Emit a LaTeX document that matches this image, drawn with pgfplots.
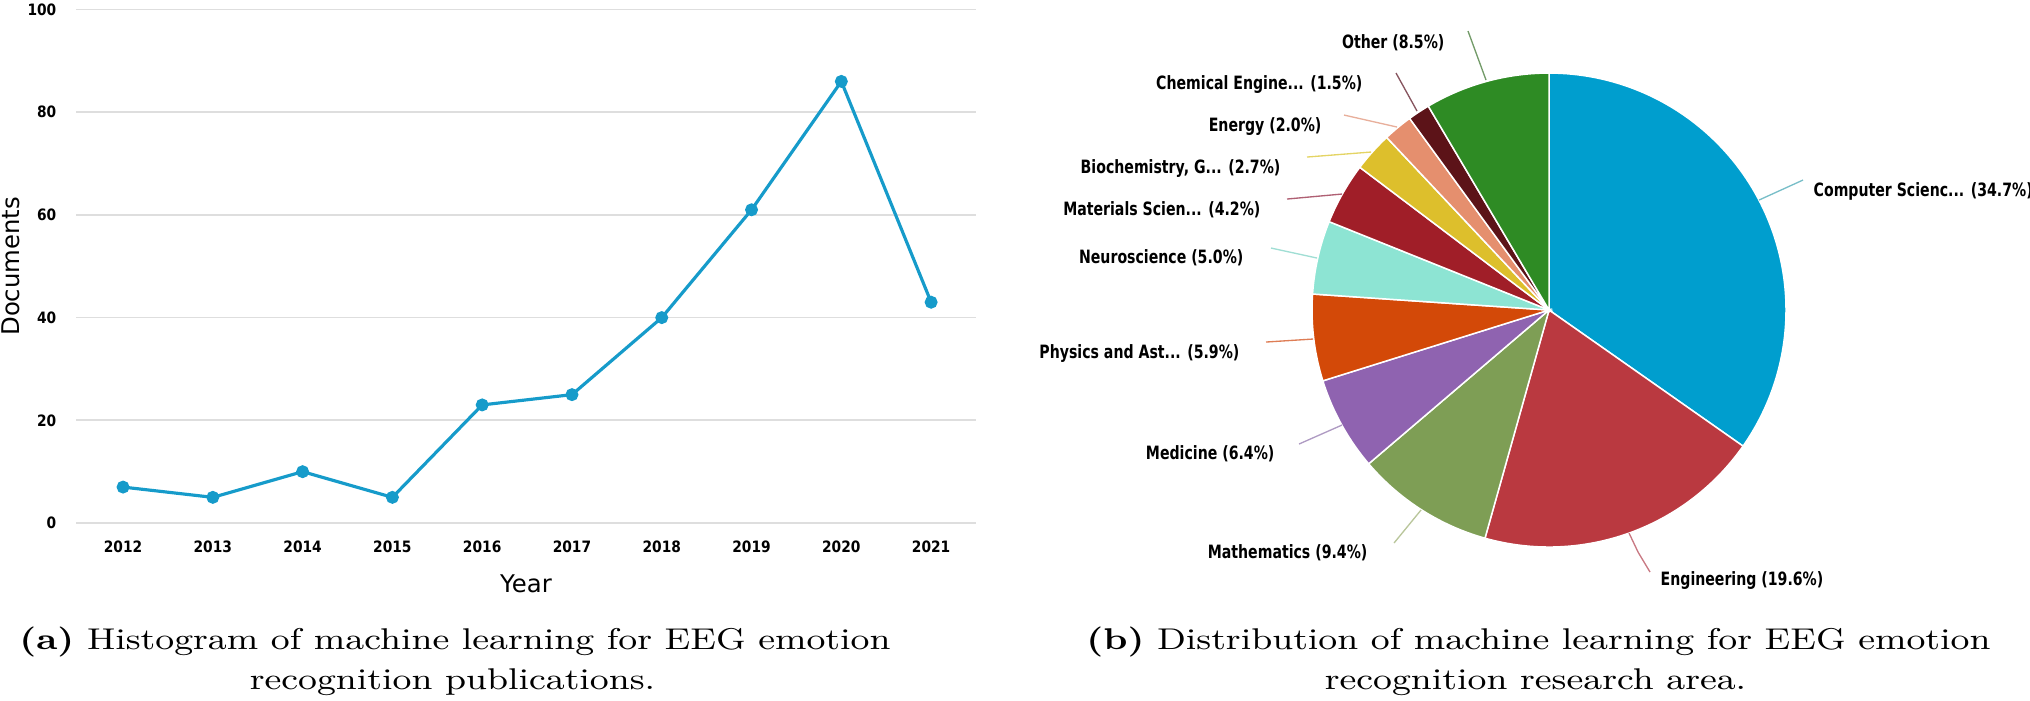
\documentclass[border=0pt]{standalone}
\usepackage{pgfplots}
\pgfplotsset{compat=1.18}
\usepackage{fontspec}
\newfontfamily\dv{DejaVu Sans}
\definecolor{linec}{RGB}{22,155,202}
\definecolor{gridc}{RGB}{222,222,222}
\definecolor{cCS}{RGB}{0,158,206}
\definecolor{cEng}{RGB}{186,57,64}
\definecolor{cMath}{RGB}{126,158,85}
\definecolor{cMed}{RGB}{143,99,176}
\definecolor{cPhy}{RGB}{211,73,8}
\definecolor{cNeu}{RGB}{141,228,211}
\definecolor{cMat}{RGB}{160,30,40}
\definecolor{cBio}{RGB}{221,191,44}
\definecolor{cEne}{RGB}{229,143,110}
\definecolor{cChe}{RGB}{92,19,24}
\definecolor{cOth}{RGB}{46,139,36}
\definecolor{lCS}{RGB}{120,190,200}
\definecolor{lEng}{RGB}{200,120,130}
\definecolor{lMath}{RGB}{185,198,155}
\definecolor{lMed}{RGB}{175,155,195}
\definecolor{lPhy}{RGB}{222,125,85}
\definecolor{lNeu}{RGB}{160,222,212}
\definecolor{lMat}{RGB}{175,95,115}
\definecolor{lBio}{RGB}{228,212,100}
\definecolor{lEne}{RGB}{232,175,155}
\definecolor{lChe}{RGB}{135,85,95}
\definecolor{lOth}{RGB}{115,155,105}
% shares of the research areas (percent), clockwise from the top
\def\pCS{34.7}\def\pEng{19.6}\def\pMath{9.4}\def\pMed{6.4}\def\pPhy{5.9}
\def\pNeu{5.0}\def\pMat{4.2}\def\pBio{2.7}\def\pEne{2.0}\def\pChe{1.5}\def\pOth{8.5}
\pgfmathsetmacro\fac{360/99.9}
\pgfmathsetmacro\aA{90}
\pgfmathsetmacro\aB{\aA-\fac*\pCS}
\pgfmathsetmacro\aC{\aB-\fac*\pEng}
\pgfmathsetmacro\aD{\aC-\fac*\pMath}
\pgfmathsetmacro\aE{\aD-\fac*\pMed}
\pgfmathsetmacro\aF{\aE-\fac*\pPhy}
\pgfmathsetmacro\aG{\aF-\fac*\pNeu}
\pgfmathsetmacro\aH{\aG-\fac*\pMat}
\pgfmathsetmacro\aI{\aH-\fac*\pBio}
\pgfmathsetmacro\aJ{\aI-\fac*\pEne}
\pgfmathsetmacro\aK{\aJ-\fac*\pChe}
\pgfmathsetmacro\aL{-270}
\newcommand\pl{\dv\bfseries\fontsize{5.5}{6}\selectfont}
\newcommand\plab[1]{\scalebox{0.77}[1]{#1}}
\newcommand\capt[1]{\scalebox{1.225}[1]{\fontsize{9}{12}\selectfont #1}}
\begin{document}
\begin{tikzpicture}[x=1pt,y=1pt]
\path[use as bounding box] (0,0) rectangle (609,210);
% ---------------- line chart ----------------
\begin{axis}[
  at={(22.8pt,53.1pt)}, anchor=south west,
  scale only axis, width=270pt, height=154.05pt,
  xmin=2011.476, xmax=2021.5, ymin=0, ymax=100,
  xtick={2012,2013,...,2021}, ytick={0,20,...,100},
  ymajorgrids, grid style={line width=0.5pt, color=gridc},
  axis line style={draw=none}, major tick length=0pt,
  /pgf/number format/assume math mode=true,
  /pgf/number format/1000 sep={},
  xticklabel={\scalebox{0.88}[1]{\pgfmathprintnumber{\tick}}},
  yticklabel={\scalebox{0.88}[1]{\pgfmathprintnumber{\tick}}},
  xticklabel style={font=\dv\bfseries\fontsize{4.7}{5}\selectfont, anchor=north, inner sep=0pt, yshift=-5.1pt},
  yticklabel style={font=\dv\bfseries\fontsize{4.7}{5}\selectfont, anchor=east, inner sep=0pt, xshift=-5.7pt},
  xlabel={Year}, ylabel={Documents},
  xlabel style={font=\dv\fontsize{7.3}{8}\selectfont, at={(axis description cs:0.5,-0.1344)}, anchor=base, inner sep=0pt},
  ylabel style={font=\dv\fontsize{7.3}{8}\selectfont, at={(axis description cs:-0.0633,0.5)}, anchor=base, inner sep=0pt},
]
\addplot[color=linec, line width=0.95pt, mark=*, mark size=1.45pt, mark options={fill=linec, draw=linec}]
  coordinates {(2012,7) (2013,5) (2014,10) (2015,5) (2016,23) (2017,25) (2018,40) (2019,61) (2020,86) (2021,43)};
\end{axis}
% ---------------- pie chart (axis in picture pixels) ----------------
\begin{axis}[
  at={(0pt,0pt)}, anchor=south west,
  scale only axis, width=609pt, height=210pt,
  xmin=0, xmax=2030, ymin=0, ymax=700, y dir=reverse,
  hide axis, clip=false,
]
\pgfplotsset{pie/.style={draw=white, line width=0.45pt, samples=90, variable=\t}}
\addplot[pie, fill=cCS,  domain=\aB:\aA] ({1549+237*cos(\t)},{310-237*sin(\t)}) -- (axis cs:1549,310) -- cycle;
\addplot[pie, fill=cEng, domain=\aC:\aB] ({1549+237*cos(\t)},{310-237*sin(\t)}) -- (axis cs:1549,310) -- cycle;
\addplot[pie, fill=cMath,domain=\aD:\aC] ({1549+237*cos(\t)},{310-237*sin(\t)}) -- (axis cs:1549,310) -- cycle;
\addplot[pie, fill=cMed, domain=\aE:\aD] ({1549+237*cos(\t)},{310-237*sin(\t)}) -- (axis cs:1549,310) -- cycle;
\addplot[pie, fill=cPhy, domain=\aF:\aE] ({1549+237*cos(\t)},{310-237*sin(\t)}) -- (axis cs:1549,310) -- cycle;
\addplot[pie, fill=cNeu, domain=\aG:\aF] ({1549+237*cos(\t)},{310-237*sin(\t)}) -- (axis cs:1549,310) -- cycle;
\addplot[pie, fill=cMat, domain=\aH:\aG] ({1549+237*cos(\t)},{310-237*sin(\t)}) -- (axis cs:1549,310) -- cycle;
\addplot[pie, fill=cBio, domain=\aI:\aH, samples=20] ({1549+237*cos(\t)},{310-237*sin(\t)}) -- (axis cs:1549,310) -- cycle;
\addplot[pie, fill=cEne, domain=\aJ:\aI, samples=20] ({1549+237*cos(\t)},{310-237*sin(\t)}) -- (axis cs:1549,310) -- cycle;
\addplot[pie, fill=cChe, domain=\aK:\aJ, samples=20] ({1549+237*cos(\t)},{310-237*sin(\t)}) -- (axis cs:1549,310) -- cycle;
\addplot[pie, fill=cOth, domain=\aL:\aK] ({1549+237*cos(\t)},{310-237*sin(\t)}) -- (axis cs:1549,310) -- cycle;
% leader lines
\addplot[draw=lCS,  line width=0.4pt] coordinates {(1759,200) (1803,180)};
\addplot[draw=lEng, line width=0.4pt] coordinates {(1629,533) (1638,552) (1650,572)};
\addplot[draw=lMath,line width=0.4pt] coordinates {(1421,510) (1394,543)};
\addplot[draw=lMed, line width=0.4pt] coordinates {(1342,425) (1299,444)};
\addplot[draw=lPhy, line width=0.4pt] coordinates {(1313,339) (1266,342)};
\addplot[draw=lNeu, line width=0.4pt] coordinates {(1317,258) (1271,248)};
\addplot[draw=lMat, line width=0.4pt] coordinates {(1342,194) (1287,199)};
\addplot[draw=lBio, line width=0.4pt] coordinates {(1371,152) (1307,157)};
\addplot[draw=lEne, line width=0.4pt] coordinates {(1397,127) (1344,115)};
\addplot[draw=lChe, line width=0.4pt] coordinates {(1417,111) (1396,73)};
\addplot[draw=lOth, line width=0.4pt] coordinates {(1486,80) (1468,31)};
% labels
\node[font=\pl, anchor=mid west, inner sep=0pt] at (axis cs:1813,189) {\plab{Computer Scienc... (34.7\%)}};
\node[font=\pl, anchor=mid west, inner sep=0pt] at (axis cs:1660,578) {\plab{Engineering (19.6\%)}};
\node[font=\pl, anchor=mid east, inner sep=0pt] at (axis cs:1368,551) {\plab{Mathematics (9.4\%)}};
\node[font=\pl, anchor=mid east, inner sep=0pt] at (axis cs:1275,452) {\plab{Medicine (6.4\%)}};
\node[font=\pl, anchor=mid east, inner sep=0pt] at (axis cs:1240,351) {\plab{Physics and Ast... (5.9\%)}};
\node[font=\pl, anchor=mid east, inner sep=0pt] at (axis cs:1244,256) {\plab{Neuroscience (5.0\%)}};
\node[font=\pl, anchor=mid east, inner sep=0pt] at (axis cs:1261,208) {\plab{Materials Scien... (4.2\%)}};
\node[font=\pl, anchor=mid east, inner sep=0pt] at (axis cs:1281,166) {\plab{Biochemistry, G... (2.7\%)}};
\node[font=\pl, anchor=mid east, inner sep=0pt] at (axis cs:1322,124) {\plab{Energy (2.0\%)}};
\node[font=\pl, anchor=mid east, inner sep=0pt] at (axis cs:1363,82) {\plab{Chemical Engine... (1.5\%)}};
\node[font=\pl, anchor=mid east, inner sep=0pt] at (axis cs:1445,41) {\plab{Other (8.5\%)}};
% captions
\node[anchor=base, inner sep=0pt] at (axis cs:455,649) {\capt{\textbf{(a)} Histogram of machine learning for EEG emotion}};
\node[anchor=base, inner sep=0pt] at (axis cs:452.5,689) {\capt{recognition publications.}};
\node[anchor=base, inner sep=0pt] at (axis cs:1538.5,649) {\capt{\textbf{(b)} Distribution of machine learning for EEG emotion}};
\node[anchor=base, inner sep=0pt] at (axis cs:1535.5,689) {\capt{recognition research area.}};
\end{axis}
\end{tikzpicture}
\end{document}
